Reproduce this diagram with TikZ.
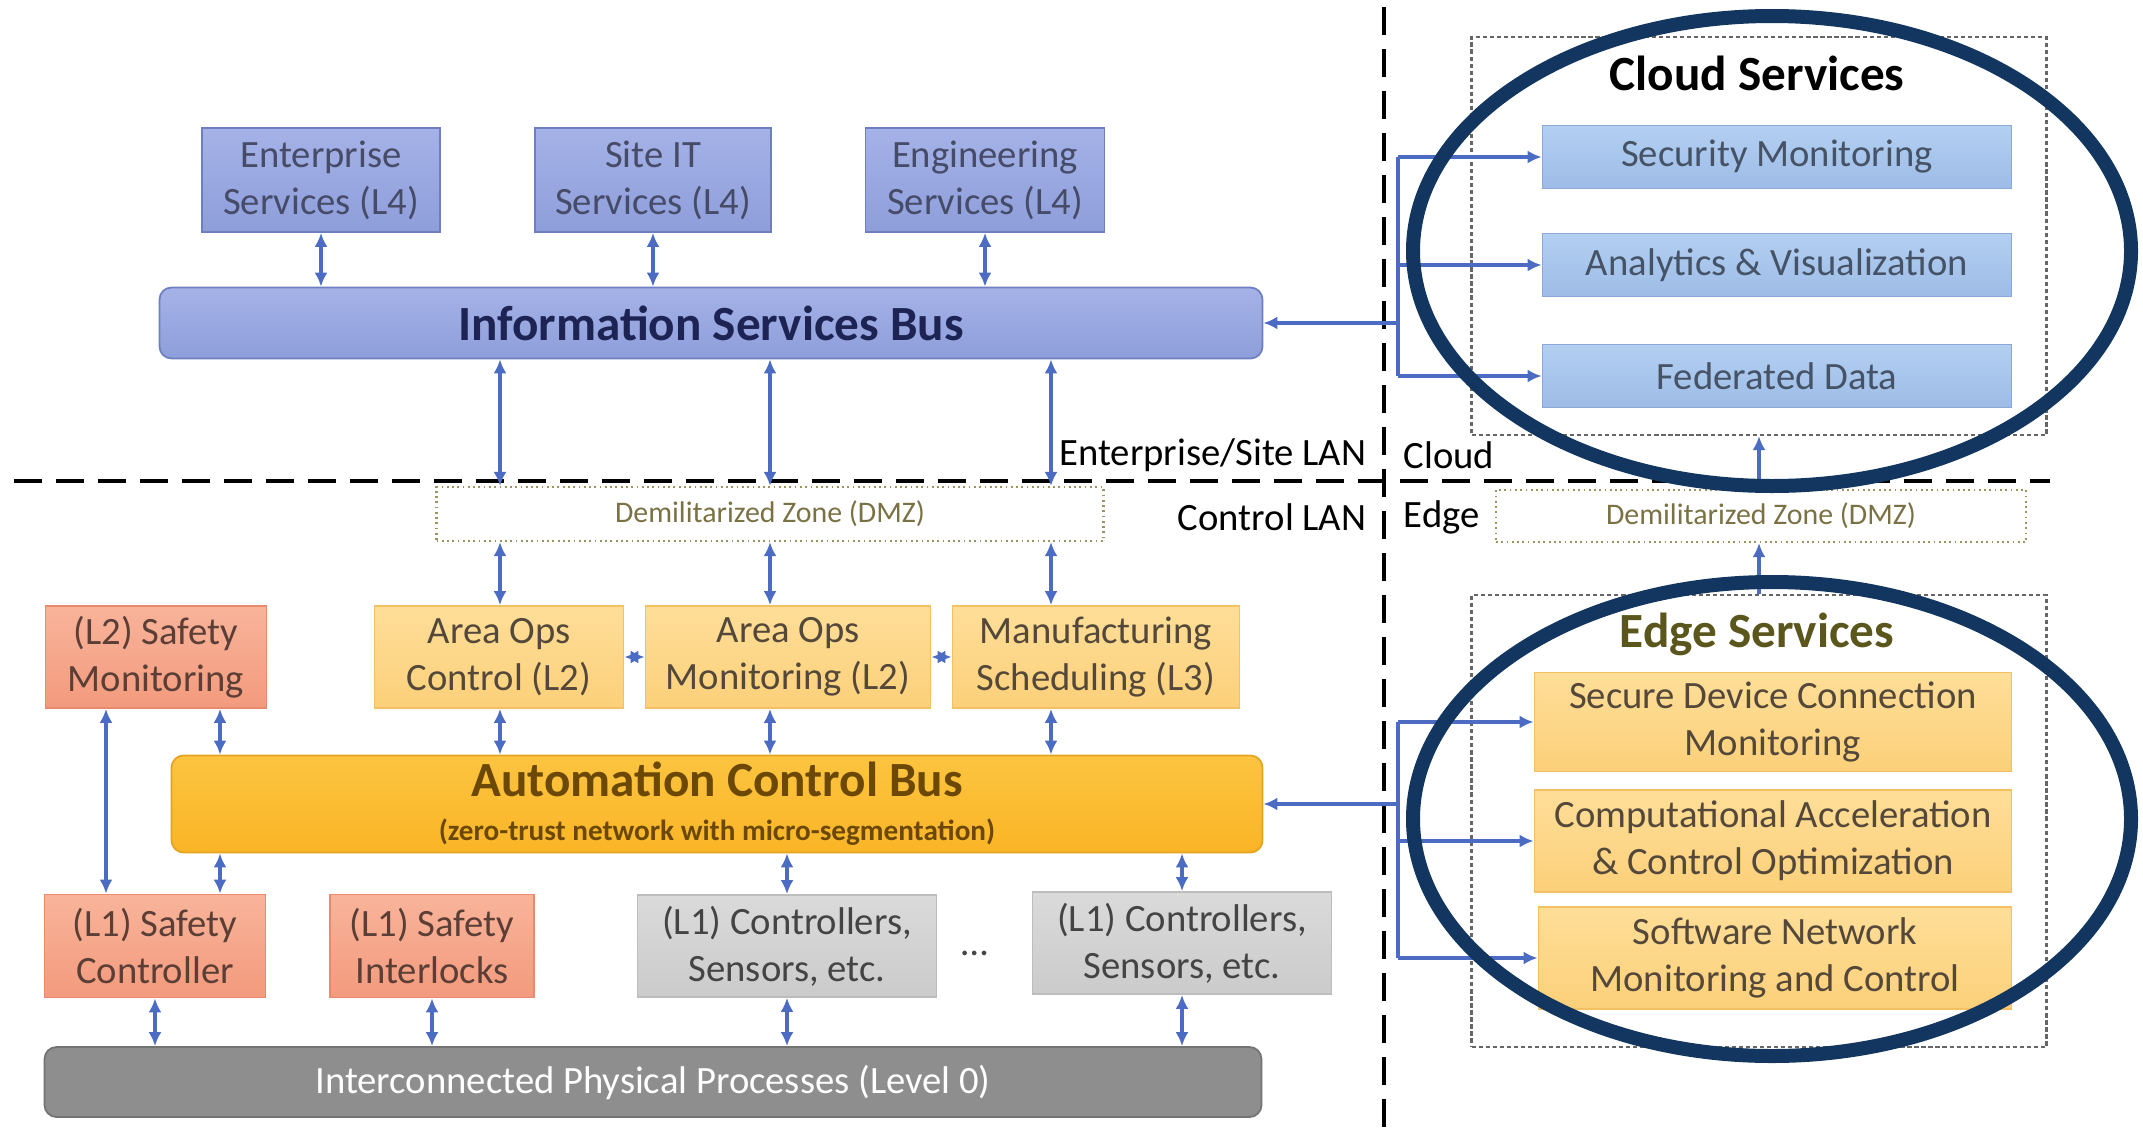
\documentclass[tikz,border=0pt]{standalone}
\usepackage{fontspec}
\setmainfont{Carlito}
\usetikzlibrary{arrows.meta}

\definecolor{linkblue}{HTML}{4C6CC4}
\definecolor{ringnavy}{HTML}{12365F}
\definecolor{itline}{HTML}{6E7FC0}
\definecolor{ittop}{HTML}{A4B2E7}
\definecolor{itbot}{HTML}{8E9EDA}
\definecolor{ittext}{HTML}{464B68}
\definecolor{bustext}{HTML}{1D2454}
\definecolor{cloudline}{HTML}{8BA9D6}
\definecolor{cloudtop}{HTML}{B3CFF2}
\definecolor{cloudbot}{HTML}{9DBCE6}
\definecolor{cloudtext}{HTML}{465366}
\definecolor{amberline}{HTML}{F3C162}
\definecolor{ambertop}{HTML}{FEDE98}
\definecolor{amberbot}{HTML}{FCD07A}
\definecolor{ambertext}{HTML}{54483A}
\definecolor{safeline}{HTML}{EA8A6C}
\definecolor{safetop}{HTML}{F8B49A}
\definecolor{safebot}{HTML}{F39A7D}
\definecolor{safetext}{HTML}{5B3F36}
\definecolor{acbline}{HTML}{E4A322}
\definecolor{acbtop}{HTML}{FCC440}
\definecolor{acbbot}{HTML}{FAB526}
\definecolor{acbtext}{HTML}{6B4805}
\definecolor{greyline}{HTML}{BDBDBD}
\definecolor{greytop}{HTML}{DADADA}
\definecolor{greybot}{HTML}{CBCBCB}
\definecolor{greytext}{HTML}{444444}
\definecolor{physfill}{HTML}{8E8E8E}
\definecolor{dmzline}{HTML}{9C9460}
\definecolor{dmztext}{HTML}{7A7245}
\definecolor{edgetitle}{HTML}{5A561C}

\begin{document}
\begin{tikzpicture}[x=0.1mm,y=-0.1mm]
		\tikzstyle{basebox}=[rectangle,align=center,inner sep=0pt,line width=0.5pt,font=\fontsize{11}{13.4}\selectfont]
		\tikzstyle{itbox}=[basebox,draw=itline,top color=ittop,bottom color=itbot,text=ittext]
		\tikzstyle{bus}=[basebox,rounded corners=1.2mm,font=\bfseries]
		\tikzstyle{cloudsvc}=[basebox,draw=cloudline,top color=cloudtop,bottom color=cloudbot,text=cloudtext,minimum height=6.3mm]
		\tikzstyle{amberbox}=[basebox,draw=amberline,top color=ambertop,bottom color=amberbot,text=ambertext]
		\tikzstyle{safebox}=[basebox,draw=safeline,top color=safetop,bottom color=safebot,text=safetext,minimum height=10.3mm]
		\tikzstyle{greybox}=[basebox,draw=greyline,top color=greytop,bottom color=greybot,text=greytext,minimum height=10.2mm]
		\tikzstyle{dmz}=[basebox,draw=dmzline,densely dotted,line width=0.6pt,text=dmztext,font=\fontsize{8.5}{10}\selectfont]
		\tikzstyle{group}=[rectangle,draw=black!60,dash pattern=on 1.2pt off 0.8pt,line width=0.6pt]
		\tikzstyle{lan}=[font=\fontsize{11}{13}\selectfont,inner sep=0pt]
		\tikzstyle{title}=[font=\fontsize{14}{16}\selectfont\bfseries,inner sep=0pt]
		\tikzstyle{divider}=[black,line width=1.3pt,dash pattern=on 2.8mm off 1.4mm]
		\tikzstyle{biarrow}=[linkblue,line width=0.9pt,{Latex[length=1.4mm,width=1.3mm]}-{Latex[length=1.4mm,width=1.3mm]}]
		\tikzstyle{onearrow}=[linkblue,line width=1pt,-{Latex[length=1.4mm,width=1.3mm]}]
		\tikzstyle{ring}=[ringnavy,line width=1.4mm]

		\useasboundingbox (0,0) rectangle (2143,1145);

		% enterprise side
		\node[itbox,minimum width=23.8mm,minimum height=10.4mm] (ent) at (321,180) {Enterprise\\Services (L4)};
		\node[itbox,minimum width=23.6mm,minimum height=10.4mm] (site) at (653,180) {Site IT\\Services (L4)};
		\node[itbox,minimum width=23.9mm,minimum height=10.4mm] (eng) at (985,180) {Engineering\\Services (L4)};
		\node[bus,draw=itline,top color=ittop,bottom color=itbot,text=bustext,minimum width=110.3mm,minimum height=7.1mm,font=\fontsize{14}{16}\selectfont\bfseries] (isb) at (711,323) {Information Services Bus};

		\node[dmz,minimum width=66.7mm,minimum height=5.4mm] (dmzL) at (770,514) {Demilitarized Zone (DMZ)};

		% control side
		\node[safebox,minimum width=22.1mm,minimum height=10.2mm] (sm) at (156,657) {(L2) Safety\\Monitoring};
		\node[amberbox,minimum width=24.9mm,minimum height=10.2mm] (aoc) at (499,657) {Area Ops\\Control (L2)};
		\node[amberbox,minimum width=28.5mm,minimum height=10.2mm] (aom) at (788,657) {Area Ops\\Monitoring (L2)};
		\node[amberbox,minimum width=28.7mm,minimum height=10.2mm] (mfg) at (1096,657) {Manufacturing\\Scheduling (L3)};
		\node[bus,draw=acbline,top color=acbtop,bottom color=acbbot,text=acbtext,minimum width=109.1mm,minimum height=9.7mm] (acb) at (717,804) {{\fontsize{14}{14}\selectfont Automation Control Bus}\\[0.2mm]{\fontsize{8.3}{9}\selectfont (zero-trust network with micro-segmentation)}};

		\node[safebox,minimum width=22.1mm] (sc) at (155,946) {(L1) Safety\\Controller};
		\node[safebox,minimum width=20.4mm] (si) at (432,946) {(L1) Safety\\Interlocks};
		\node[greybox,minimum width=29.9mm] (cs1) at (787,946) {(L1) Controllers,\\Sensors, etc.};
		\node[basebox,text=greytext] (more) at (975,953) {\ldots};
		\node[greybox,minimum width=29.9mm] (cs2) at (1182,943) {(L1) Controllers,\\Sensors, etc.};
		\node[basebox,rounded corners=1.2mm,draw=black!55,fill=physfill,text=white,minimum width=121.7mm,minimum height=7mm] (phys) at (653,1082) {Interconnected Physical Processes (Level 0)};

		% cloud and edge
		\node[group,minimum width=57.5mm,minimum height=39.8mm] (cloudbox) at (1759,236) {};
		\node[title] (cloudtitle) at (1757,73) {Cloud Services};
		\node[cloudsvc,minimum width=46.9mm] (secmon) at (1777,157) {Security Monitoring};
		\node[cloudsvc,minimum width=46.9mm] (anvis) at (1777,265) {Analytics \& Visualization};
		\node[cloudsvc,minimum width=46.9mm] (feddata) at (1777,376) {Federated Data};

		\node[dmz,minimum width=53mm,minimum height=5.2mm] (dmzR) at (1761,516) {Demilitarized Zone (DMZ)};

		\node[group,minimum width=57.5mm,minimum height=45.2mm] (edgebox) at (1759,821) {};
		\node[title,text=edgetitle] (edgetitle) at (1757,634) {Edge Services};
		\node[amberbox,minimum width=47.7mm,minimum height=9.9mm] (sdcm) at (1773,722) {Secure Device Connection\\Monitoring};
		\node[amberbox,minimum width=47.7mm,minimum height=10.2mm] (cao) at (1773,841) {Computational Acceleration\\\& Control Optimization};
		\node[amberbox,minimum width=47.3mm,minimum height=10.2mm] (snmc) at (1775,958) {Software Network\\Monitoring and Control};

		% zone dividers
		\draw[divider] (14,481) -- (2050,481);
		\draw[divider] (1384,7) -- (1384,1134);
		\node[lan,anchor=east] (entlan) at (1367,455) {Enterprise/Site LAN};
		\node[lan,anchor=west] (cloudlan) at (1403,455) {Cloud};
		\node[lan,anchor=east] (ctrllan) at (1367,517) {Control LAN};
		\node[lan,anchor=west] (edgelan) at (1403,517) {Edge};

		\coordinate (colA) at (500,0);
		\coordinate (colB) at (770,0);
		\coordinate (colC) at (1051,0);
		\coordinate (safeA) at (106,0);
		\coordinate (safeB) at (220,0);
		\coordinate (splitx) at (1398,0);

		\foreach \n in {ent,site,eng} { \draw[biarrow] (\n.south) -- (\n.south |- isb.north);}
		\foreach \c / \b in {colA/aoc,colB/aom,colC/mfg} {
			\draw[biarrow] (\c |- isb.south) -- (\c |- dmzL.north);
			\draw[biarrow] (\c |- dmzL.south) -- (\c |- \b.north);
			\draw[biarrow] (\c |- \b.south) -- (\c |- acb.north);
		}
		\draw[biarrow] (aoc.east) -- (aom.west);
		\draw[biarrow] (aom.east) -- (mfg.west);

		\draw[biarrow] (safeB |- sm.south) -- (safeB |- acb.north);
		\draw[biarrow] (safeA |- sm.south) -- (safeA |- sc.north);
		\draw[biarrow] (safeB |- acb.south) -- (safeB |- sc.north);
		\foreach \n in {cs1,cs2} { \draw[biarrow] (\n |- acb.south) -- (\n.north);}
		\foreach \n in {sc,si,cs1,cs2} { \draw[biarrow] (\n.south) -- (\n.south |- phys.north);}

		\draw[onearrow] (splitx |- isb.east) -- (isb.east);
		\draw[linkblue,line width=1pt] (splitx |- secmon) -- (splitx |- feddata);
		\foreach \n in {secmon,anvis,feddata} { \draw[onearrow] (splitx |- \n) -- (\n.west);}
		\draw[onearrow] (splitx |- acb.east) -- (acb.east);
		\draw[linkblue,line width=1pt] (splitx |- sdcm) -- (splitx |- snmc);
		\foreach \n in {sdcm,cao,snmc} { \draw[onearrow] (splitx |- \n) -- (\n.west);}
		\draw[onearrow] (dmzR.north -| cloudbox.south) -- (cloudbox.south);
		\draw[onearrow] (edgebox.north) -- (edgebox.north |- dmzR.south);

		\draw[ring] (1772,251) ellipse [x radius=359, y radius=235];
		\draw[ring] (1772,819) ellipse [x radius=359, y radius=237];
	\end{tikzpicture}
\end{document}
